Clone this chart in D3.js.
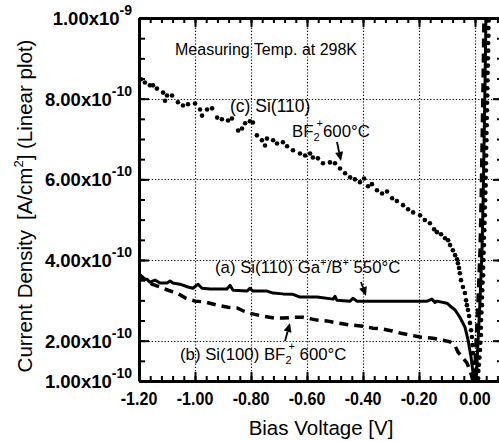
<!DOCTYPE html>
<html><head><meta charset="utf-8">
<script src="https://cdn.jsdelivr.net/npm/d3@7"></script>
<style>
body{margin:0;background:#fff}
svg{display:block;font-family:"Liberation Sans",Arial,Helvetica,sans-serif}
</style></head>
<body><svg id="chart" width="499" height="441"></svg>
<script>
// ---------- data (current density in units of 1e-10 A/cm^2) ----------
const voltageTicks = [-1.2, -1.0, -0.8, -0.6, -0.4, -0.2, 0.0];
const voltageLabels = ["-1.20", "-1.00", "-0.80", "-0.60", "-0.40", "-0.20", "0.00"];
const currentTicks = [1, 2, 4, 6, 8, 10];
const currentLabels = ["1.00x10", "2.00x10", "4.00x10", "6.00x10", "8.00x10", "1.00x10"];
const currentExponents = ["-10", "-10", "-10", "-10", "-10", "-9"];

// (a) Si(110) Ga+/B+ 550C  (solid)
const voltageA = [-1.200,-1.186,-1.171,-1.161,-1.143,-1.125,-1.100,-1.089,-1.079,-1.054,
  -1.025,-1.007,-0.989,-0.975,-0.946,-0.921,-0.886,-0.875,-0.864,-0.814,
  -0.804,-0.793,-0.743,-0.721,-0.686,-0.650,-0.625,-0.600,-0.564,-0.507,
  -0.500,-0.493,-0.446,-0.436,-0.421,-0.268,-0.171,-0.154,-0.143,-0.136,
  -0.100,-0.089,-0.071,-0.054,-0.036,-0.025,-0.014,-0.007,0.000,0.002,
  0.004,0.011,0.018,0.025,0.029,0.032,0.036,0.039,0.041];
const currentA = [3.60,3.53,3.52,3.45,3.50,3.43,3.43,3.48,3.43,3.40,
  3.33,3.30,3.40,3.30,3.28,3.28,3.28,3.37,3.25,3.23,
  3.30,3.23,3.23,3.18,3.16,3.15,3.08,3.08,3.08,3.03,
  3.10,3.00,2.98,3.05,2.98,2.98,2.98,3.03,2.95,2.98,
  2.93,2.86,2.76,2.58,2.34,2.02,1.59,1.20,0.95,0.60,
  1.00,2.00,3.00,4.24,5.48,6.72,8.45,10.00,10.45];

// (b) Si(100) BF2+ 600C  (dashed)
const voltageB = [-1.200,-1.179,-1.154,-1.125,-1.096,-1.064,-1.032,-1.000,-0.964,-0.921,
  -0.882,-0.850,-0.825,-0.804,-0.761,-0.714,-0.686,-0.643,-0.614,-0.564,
  -0.529,-0.493,-0.446,-0.400,-0.364,-0.329,-0.296,-0.268,-0.232,-0.196,
  -0.150,-0.114,-0.089,-0.071,-0.061,-0.043,-0.029,-0.018,-0.011,-0.004,
  -0.003,-0.002,0.004,0.011,0.018,0.022,0.025,0.029,0.032,0.034];
const currentB = [3.65,3.52,3.40,3.33,3.25,3.18,3.05,2.98,2.96,2.88,
  2.83,2.81,2.73,2.68,2.61,2.56,2.56,2.58,2.58,2.51,
  2.49,2.44,2.39,2.36,2.31,2.29,2.24,2.19,2.14,2.09,
  2.06,2.01,1.97,1.87,1.72,1.57,1.45,1.27,1.10,0.90,
  0.60,1.00,2.00,3.00,4.24,5.48,6.72,8.45,10.00,10.45];

// (c) Si(110) BF2+ 600C  (dotted markers)
const voltageC = [-1.193,-1.179,-1.161,-1.150,-1.136,-1.114,-1.107,-1.100,-1.082,-1.061,
  -1.043,-1.025,-1.000,-0.982,-0.975,-0.957,-0.939,-0.921,-0.904,-0.882,
  -0.868,-0.846,-0.832,-0.821,-0.804,-0.793,-0.779,-0.761,-0.750,-0.743,
  -0.721,-0.707,-0.686,-0.671,-0.650,-0.625,-0.607,-0.589,-0.579,-0.561,
  -0.543,-0.518,-0.500,-0.482,-0.464,-0.446,-0.429,-0.411,-0.396,-0.382,
  -0.368,-0.350,-0.332,-0.314,-0.296,-0.279,-0.257,-0.239,-0.221,-0.196,
  -0.179,-0.161,-0.146,-0.136,-0.121,-0.107,-0.096,-0.089,-0.079,-0.071,
  -0.064,-0.061,-0.057,-0.054,-0.050,-0.043,-0.036,-0.032,-0.029,-0.025,
  -0.021,-0.018,-0.014,-0.011,-0.009,-0.007,-0.004,0.000,
  0.011,0.012,0.014,0.016,0.018,0.019,0.021,0.021,0.022,0.023,
  0.025,0.025,0.026,0.027,0.029,0.029,0.030,0.031,0.032,0.032,
  0.033,0.034,0.035,0.035,0.036,0.037,0.038,0.038,0.039,0.039,
  0.040,0.040,0.041,0.041,0.042,0.042,0.043,0.043,0.044,0.044,
  0.045,0.045,0.046,0.046,0.047,0.047,0.048,0.048,0.049];
const currentC = [8.48,8.40,8.33,8.33,8.25,8.15,7.95,8.08,8.08,7.91,
  7.83,7.86,7.88,7.73,7.58,7.73,7.76,7.53,7.49,7.46,
  7.51,7.21,7.26,7.39,7.44,7.41,7.09,6.97,6.84,7.01,
  6.97,6.89,6.92,6.82,6.72,6.64,6.59,6.64,6.54,6.52,
  6.40,6.42,6.40,6.27,6.15,6.05,6.00,5.93,6.02,5.83,
  5.88,5.73,5.65,5.70,5.53,5.46,5.36,5.26,5.18,5.11,
  4.99,4.91,4.76,4.69,4.64,4.54,4.49,4.37,4.24,4.12,
  4.02,3.92,3.80,3.67,3.50,3.33,3.18,3.00,2.88,2.76,
  2.61,2.44,2.26,2.09,1.89,1.69,1.45,1.20,
  1.07,1.25,1.40,1.58,1.77,1.95,2.14,2.32,2.51,2.70,
  2.88,3.07,3.25,3.44,3.62,3.81,4.00,4.18,4.37,4.55,
  4.74,4.92,5.11,5.30,5.48,5.67,5.85,6.04,6.22,6.40,
  6.59,6.78,6.97,7.15,7.34,7.52,7.71,7.90,8.08,8.26,
  8.45,8.64,8.82,9.00,9.19,9.38,9.56,9.75,9.94];

// ---------- layout ----------
const svg = d3.select("#chart");
const L = 139, R = 503, T = 18, B = 381;
const x = d3.scaleLinear().domain([-1.2, 0.1]).range([L, R]);
const y = d3.scaleLinear().domain([1, 10]).range([B, T]);

const minorV = d3.range(0, 33).map(i => +(-1.2 + i * 0.04).toFixed(2));
const minorJ = d3.range(0, 19).map(i => 1 + i * 0.5);

// clip
svg.append("defs").append("clipPath").attr("id", "clip")
  .append("rect").attr("x", L).attr("y", T).attr("width", R - L).attr("height", B - T);

// grid (dotted)
const grid = svg.append("g");
voltageTicks.slice(1).forEach(v => {
  const px = Math.round(x(v)) + 0.5;
  grid.append("line").attr("x1", px).attr("x2", px).attr("y1", T).attr("y2", B)
    .attr("stroke", "#000").attr("stroke-width", 1.2).attr("stroke-dasharray", "1.2,2");
});
[2, 4, 6, 8].forEach(j => {
  const py = Math.round(y(j)) + 0.5;
  grid.append("line").attr("y1", py).attr("y2", py).attr("x1", L).attr("x2", R)
    .attr("stroke", "#000").attr("stroke-width", 1.2).attr("stroke-dasharray", "1.2,2");
});

// axes helper
function styleAxis(g, w) {
  g.selectAll("path").attr("stroke", "#000").attr("stroke-width", w);
  g.selectAll("line").attr("stroke", "#000").attr("stroke-width", 2);
  g.selectAll("text").remove();
}
function addAxis(axisFn, scale, transform, major, minor, bigLen, smallLen) {
  const gMin = svg.append("g").attr("transform", transform)
    .call(axisFn(scale).tickValues(minor).tickSize(-smallLen).tickSizeOuter(0).tickFormat(""));
  styleAxis(gMin, 3);
  const gMaj = svg.append("g").attr("transform", transform)
    .call(axisFn(scale).tickValues(major).tickSize(-bigLen).tickSizeOuter(0).tickFormat(""));
  styleAxis(gMaj, 3);
  gMaj.select("path").remove();
}
addAxis(d3.axisBottom, x, `translate(0,${B})`, voltageTicks, minorV, 9, 5);
addAxis(d3.axisTop, x, `translate(0,${T})`, voltageTicks, minorV, 9, 5);
addAxis(d3.axisLeft, y, `translate(${L},0)`, currentTicks, minorJ, 10, 6);
addAxis(d3.axisRight, y, `translate(${R},0)`, currentTicks, minorJ, 10, 6);

// x tick labels
const xl = svg.append("g").attr("font-weight", "bold").attr("font-size", 17.5);
voltageTicks.forEach((v, i) => {
  xl.append("g").attr("transform", `translate(${x(v)},405) scale(0.92,1)`)
    .append("text").attr("text-anchor", "middle").text(voltageLabels[i]);
});
// y tick labels
const yl = svg.append("g").attr("font-weight", "bold").attr("font-size", 18.5);
currentTicks.forEach((v, i) => {
  const t = yl.append("g").attr("transform", `translate(132,${y(v) + 7})`)
    .append("text").attr("text-anchor", "end");
  t.append("tspan").text(currentLabels[i]);
  t.append("tspan").attr("font-size", 14).attr("dy", -10).text(currentExponents[i]);
});

// curves
const plot = svg.append("g").attr("clip-path", "url(#clip)");
const line = d3.line().x(d => x(d[0])).y(d => y(d[1]));
plot.append("path").datum(d3.zip(voltageA, currentA)).attr("d", line)
  .attr("fill", "none").attr("stroke", "#000").attr("stroke-width", 3)
  .attr("stroke-linejoin", "round");
plot.append("path").datum(d3.zip(voltageB, currentB)).attr("d", line)
  .attr("fill", "none").attr("stroke", "#000").attr("stroke-width", 3.5)
  .attr("stroke-dasharray", "9,6");
plot.selectAll(".dot").data(d3.zip(voltageC, currentC)).enter().append("circle")
  .attr("cx", d => x(d[0])).attr("cy", d => y(d[1])).attr("r", 2.3).attr("fill", "#000");

// annotations
const ann = svg.append("g").attr("font-size", 16.8).attr("fill", "#000");
ann.append("text").attr("x", 175).attr("y", 55).attr("font-size", 16).text("Measuring Temp. at 298K");
ann.append("text").attr("x", 230).attr("y", 112).attr("font-size", 17.5).text("(c) Si(110)");
const tc = ann.append("text").attr("x", 292).attr("y", 137);
tc.append("tspan").text("BF");
tc.append("tspan").attr("font-size", 11).attr("dy", 4).text("2");
tc.append("tspan").attr("font-size", 11).attr("dx", -3).attr("dy", -14).text("+");
tc.append("tspan").attr("dy", 10).text("600\u00b0C");

const ta = ann.append("text").attr("x", 215).attr("y", 273);
ta.append("tspan").text("(a) Si(110) Ga");
ta.append("tspan").attr("font-size", 11).attr("dy", -7).text("+");
ta.append("tspan").attr("dy", 7).text("/B");
ta.append("tspan").attr("font-size", 11).attr("dy", -7).text("+");
ta.append("tspan").attr("dy", 7).text(" 550\u00b0C");

const tb = ann.append("text").attr("x", 180).attr("y", 360);
tb.append("tspan").text("(b) Si(100) BF");
tb.append("tspan").attr("font-size", 11).attr("dy", 4).text("2");
tb.append("tspan").attr("font-size", 11).attr("dx", -3).attr("dy", -14).text("+");
tb.append("tspan").attr("dy", 10).text(" 600\u00b0C");

function arrow(x1, y1, x2, y2) {
  const ang = Math.atan2(y2 - y1, x2 - x1), hl = 9, hw = 4;
  const bx = x2 - hl * Math.cos(ang), by = y2 - hl * Math.sin(ang);
  svg.append("line").attr("x1", x1).attr("y1", y1).attr("x2", bx).attr("y2", by)
    .attr("stroke", "#000").attr("stroke-width", 1.8);
  const px = -Math.sin(ang) * hw, py = Math.cos(ang) * hw;
  svg.append("path").attr("d", `M${x2},${y2}L${bx + px},${by + py}L${bx - px},${by - py}Z`).attr("fill", "#000");
}
arrow(337, 142, 341, 161);
arrow(361, 282, 366, 296);
arrow(285, 341, 290, 323);

// axis titles
svg.append("text").attr("x", 321).attr("y", 435).attr("text-anchor", "middle")
  .attr("font-size", 20.5).text("Bias Voltage [V]");
const yt = svg.append("text").attr("transform", "translate(32,206) rotate(-90)")
  .attr("text-anchor", "middle").attr("font-size", 20.5);
yt.append("tspan").text("Current Density");
yt.append("tspan").attr("dx", 10).text("[A/cm");
yt.append("tspan").attr("font-size", 13).attr("dy", -9).text("2");
yt.append("tspan").attr("dy", 9).text("] (Linear plot)");
</script></body></html>
